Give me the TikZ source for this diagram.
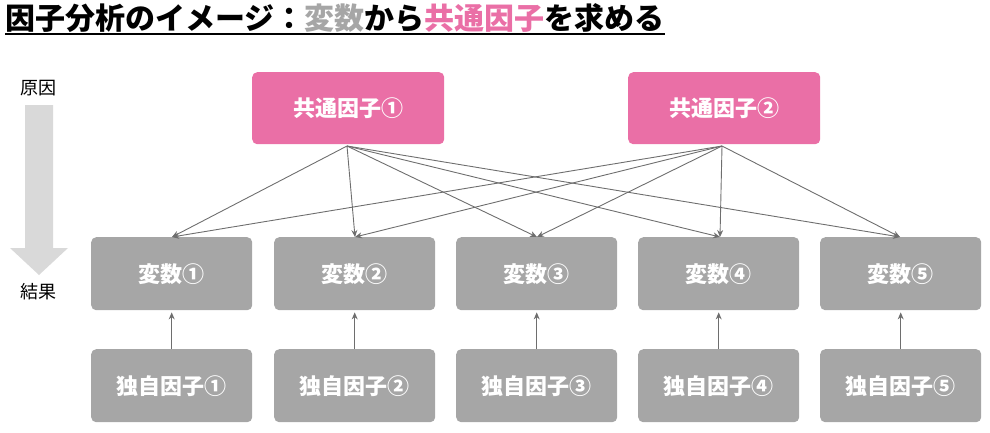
\documentclass[tikz,border=0pt]{standalone}
\usepackage{fontspec}
\setmainfont{Noto Sans CJK JP}
\usetikzlibrary{arrows.meta}
\definecolor{pinkc}{HTML}{EA6FA6}
\definecolor{grayc}{HTML}{A6A6A6}
\definecolor{linec}{HTML}{6E6E6E}
\definecolor{arrc}{HTML}{D9D9D9}
\begin{document}
\begin{tikzpicture}[x=1pt,y=-1pt,
  box/.style={draw=none,rounded corners=5pt,minimum width=161pt,minimum height=73pt,text=white,font=\fontsize{22}{24}\selectfont\bfseries,anchor=north west},
  fac/.style={box,fill=pinkc,minimum width=192pt,minimum height=72pt},
  var/.style={box,fill=grayc},
  con/.style={draw=linec,line width=0.9pt,-{Stealth[length=7pt,width=6pt]}}]
\useasboundingbox (0,0) rectangle (990,432);
% title
\node[anchor=west,font=\fontsize{30}{32}\selectfont\bfseries,inner sep=0] (title) at (5,18)
 {因子分析のイメージ：\textcolor{grayc}{変数}から\textcolor{pinkc}{共通因子}を求める};
\draw[line width=1.6pt] (title.south west) ++(0,1) coordinate (ul) -- (title.south east |- ul);
% left arrow
\node[font=\fontsize{18}{20}\selectfont] (cause) at (38,88) {原因};
\node[font=\fontsize{18}{20}\selectfont] (effect) at (38,292) {結果};
\fill[arrc] (25,105) -- (53,105) -- (53,248) -- (68,248) -- (39,275) -- (10,248) -- (25,248) -- cycle;
% factors
\node[fac] (f1) at (252,72) {共通因子①};
\node[fac] (f2) at (628,72) {共通因子②};
\foreach \i/\x in {1/91,2/274,3/456,4/638,5/820}{
  \node[var] (v\i) at (\x,237) {変数\ifcase\i\or①\or②\or③\or④\or⑤\fi};
  \node[var] (u\i) at (\x,349) {独自因子\ifcase\i\or①\or②\or③\or④\or⑤\fi};
  \draw[con] (u\i.north) -- ([yshift=-2pt]v\i.south);
}
\coordinate (s1) at (347,146);
\coordinate (s2) at (722,146);
\foreach \s in {s1,s2}{
  \draw[con] (\s) -- (172,237);
  \draw[con] (\s) -- (355,237);
  \draw[con] (\s) -- (537,237);
  \draw[con] (\s) -- (720,237);
  \draw[con] (\s) -- (900,237);
}
\end{tikzpicture}
\end{document}
